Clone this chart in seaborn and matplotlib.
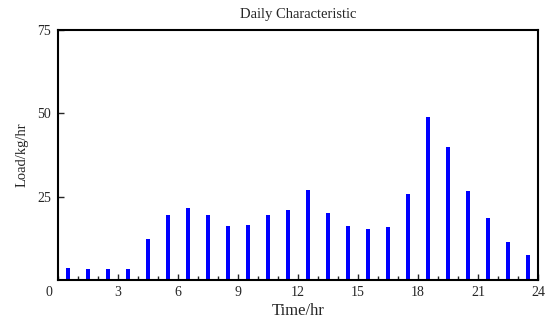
import numpy as np
import pandas as pd
import seaborn as sns
from matplotlib import pyplot as plt
from matplotlib.ticker import MultipleLocator

hours = [0.5, 1.5, 2.5, 3.5, 4.5, 5.5, 6.5, 7.5, 8.5, 9.5, 10.5, 11.5,
         12.5, 13.5, 14.5, 15.5, 16.5, 17.5, 18.5, 19.5, 20.5, 21.5, 22.5, 23.5]
load = [3.6, 3.2, 3.2, 3.2, 12.4, 19.6, 21.6, 19.6, 16.3, 16.5, 19.4, 20.9,
        27.1, 20.2, 16.1, 15.2, 15.9, 25.9, 48.8, 39.8, 26.7, 18.7, 11.4, 7.5]
x_ticks = [3, 6, 9, 12, 15, 18, 21, 24]
y_ticks = [25, 50, 75]

df = pd.DataFrame({"Time/hr": hours, "Load/kg/hr": load})

sns.set_style("ticks")
plt.rcParams["font.family"] = ["Liberation Serif", "DejaVu Serif"]

fig, ax = plt.subplots(figsize=(5.5, 3.23), dpi=100)
fig.subplots_adjust(left=0.1055, right=0.978, top=0.907, bottom=0.133)

sns.barplot(data=df, x="Time/hr", y="Load/kg/hr", native_scale=True,
            width=0.2, color="#0000FF", saturation=1, linewidth=0, ax=ax)

ax.set_xlim(0, 24)
ax.set_ylim(0, 75)
ax.set_xticks(x_ticks)
ax.set_yticks(y_ticks)
ax.xaxis.set_minor_locator(MultipleLocator(1))
ax.tick_params(axis="both", which="major", direction="in", length=4, width=1,
               labelsize=10)
ax.tick_params(axis="x", which="major", pad=4)
ax.tick_params(axis="y", which="major", pad=5)
ax.tick_params(axis="x", which="minor", direction="in", length=3, width=1)
for s in ax.spines.values():
    s.set_linewidth(1.5)
    s.set_color("black")

ax.text(-0.019, -0.022, "0", transform=ax.transAxes, ha="center", va="top", fontsize=10)
ax.set_title("Daily Characteristic", fontsize=10.5, pad=9)
ax.set_xlabel("Time/hr", fontsize=12, labelpad=3)
ax.set_ylabel("Load/kg/hr", fontsize=10.5, labelpad=6)

fig.savefig("out.png", dpi=100)
